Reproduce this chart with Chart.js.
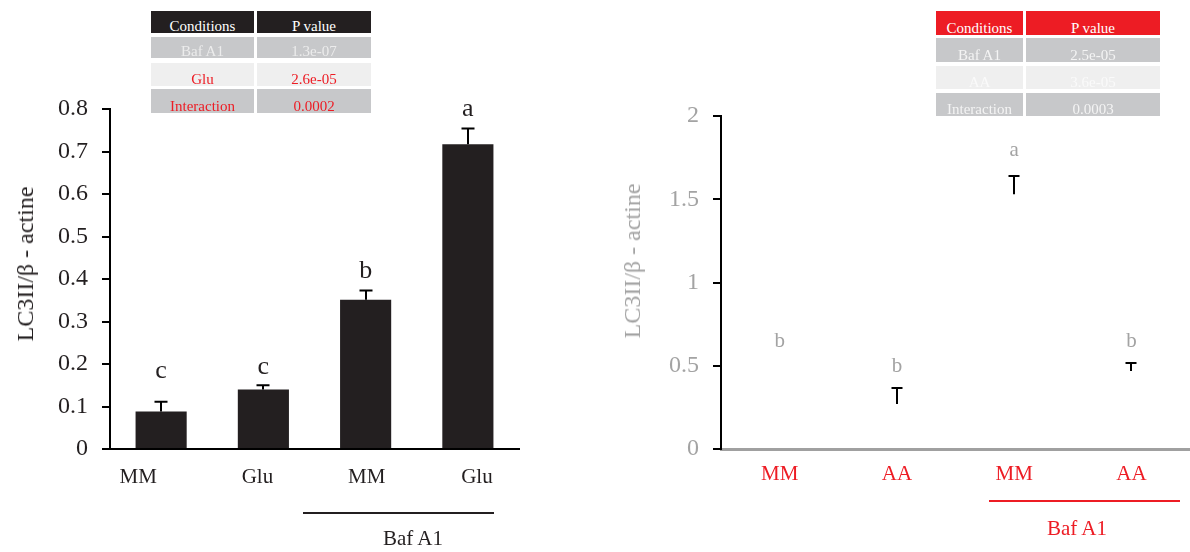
<!DOCTYPE html>
<html><head><meta charset="utf-8">
<script src="https://cdn.jsdelivr.net/npm/chart.js@4.4.0/dist/chart.umd.min.js"></script>
<style>
html,body{margin:0;padding:0;background:#fff;width:1190px;height:552px;overflow:hidden;font-family:"Liberation Serif","Times New Roman",serif;}
#w1{position:absolute;left:0;top:0;width:595px;height:552px;}
#w2{position:absolute;left:595px;top:0;width:595px;height:552px;}
.cell{position:absolute;overflow:hidden;}
.cell span{position:absolute;left:0;right:0;text-align:center;font-size:15px;line-height:15px;white-space:nowrap;}
.txt{position:absolute;white-space:nowrap;line-height:1;}
.rot{position:absolute;white-space:nowrap;line-height:1;transform:translate(-50%,-50%) rotate(-90deg);}
.hl{position:absolute;}
</style></head><body>
<div id="w1"><canvas id="c1" width="595" height="552"></canvas></div>
<div id="w2"><canvas id="c2" width="595" height="552"></canvas></div>
<div id="overlay"></div>
<script>
// ---------- data ----------
const leftCategories = ['MM', 'Glu', 'MM', 'Glu'];
const leftMeans = [0.088, 0.140, 0.351, 0.717];
const leftErrors = [0.023, 0.010, 0.022, 0.037];
const leftLetters = ['c', 'c', 'b', 'a'];
const leftLetterLevels = [0.167, 0.176, 0.402, 0.784];
const leftTickValues = [0, 0.1, 0.2, 0.3, 0.4, 0.5, 0.6, 0.7, 0.8];

const rightCategories = ['MM', 'AA', 'MM', 'AA'];
const rightMeans = [0.47, 0.27, 1.53, 0.468];
const rightErrors = [null, 0.096, 0.11, 0.048];
const rightLetters = ['b', 'b', 'a', 'b'];
const rightLetterLevels = [0.612, 0.462, 1.759, 0.612];
const rightTickValues = [0, 0.5, 1, 1.5, 2];

const leftTableHeader = ['Conditions', 'P value'];
const leftTableConditions = ['Baf A1', 'Glu', 'Interaction'];
const leftTablePValues = ['1.3e-07', '2.6e-05', '0.0002'];
const rightTableHeader = ['Conditions', 'P value'];
const rightTableConditions = ['Baf A1', 'AA', 'Interaction'];
const rightTablePValues = ['2.5e-05', '3.6e-05', '0.0003'];

const yTitle = 'LC3II/\u03b2 - actine';
const groupLabel = 'Baf A1';

// ---------- styles / layout ----------
const SERIF = '"Liberation Serif", "Times New Roman", serif';
const DARK = '#231f20';
const GRAY = '#a3a3a3';
const RED = '#ed1c24';
const CELL_GRAY = '#c7c8ca';
const CELL_LIGHT = '#efefef';
// left chart category labels sit slightly off their bar centres in the original
const LEFT_LABEL_SHIFT = [-23, -6, 1, 9];

Chart.defaults.font.family = SERIF;

function fmt(v) { return String(+Number(v).toFixed(1)); }

const errorBarPlugin = {
  id: 'errbars',
  afterDatasetsDraw(chart, args, opts) {
    const ctx = chart.ctx, meta = chart.getDatasetMeta(0), ys = chart.scales.y, xs = chart.scales.x;
    ctx.save();
    ctx.strokeStyle = opts.color; ctx.lineWidth = opts.width;
    opts.means.forEach((m, i) => {
      const e = opts.errors[i];
      if (e == null) return;
      const x = Math.round(meta.data[i].x);
      const y0 = ys.getPixelForValue(m), y1 = ys.getPixelForValue(m + e);
      ctx.beginPath();
      ctx.moveTo(x, y0); ctx.lineTo(x, y1);
      ctx.moveTo(x - opts.cap / 2, y1); ctx.lineTo(x + opts.cap / 2, y1);
      ctx.stroke();
    });
    ctx.fillStyle = opts.letterColor;
    ctx.font = opts.letterFont;
    ctx.textAlign = 'center'; ctx.textBaseline = 'alphabetic';
    opts.letters.forEach((t, i) => {
      ctx.fillText(t, meta.data[i].x, ys.getPixelForValue(opts.letterLevels[i]));
    });
    if (opts.labelShift) {
      ctx.fillStyle = opts.labelColor;
      ctx.font = opts.labelFont;
      chart.data.labels.forEach((t, i) => {
        ctx.fillText(t, xs.getPixelForValue(i) + opts.labelShift[i], xs.top + opts.labelBaseline);
      });
    }
    ctx.restore();
  }
};

function makeChart(id, cfg) {
  return new Chart(document.getElementById(id), {
    type: 'bar',
    data: {
      labels: cfg.categories,
      datasets: [{ data: cfg.means, backgroundColor: cfg.barColor, borderWidth: 0,
        barPercentage: 0.5, categoryPercentage: 1.0 }]
    },
    options: {
      responsive: false, animation: false, devicePixelRatio: 1,
      layout: { padding: { left: 0, top: cfg.padTop, right: cfg.padRight, bottom: 0 } },
      plugins: {
        legend: { display: false }, tooltip: { enabled: false },
        errbars: { means: cfg.means, errors: cfg.errors, color: '#000', width: 2, cap: cfg.cap,
          letters: cfg.letters, letterLevels: cfg.letterLevels, letterColor: cfg.letterColor, letterFont: cfg.letterFont,
          labelShift: cfg.labelShift, labelColor: cfg.xLabelColor, labelFont: '21px ' + SERIF, labelBaseline: 34 }
      },
      scales: {
        x: {
          grid: { display: false },
          border: { display: true, color: cfg.xBorderColor, width: cfg.xBorderWidth },
          ticks: { display: !cfg.labelShift, color: cfg.xLabelColor, font: { size: 21, family: SERIF }, padding: cfg.xPad, maxRotation: 0 },
          afterFit: s => { s.height = 103; }
        },
        y: {
          min: 0, max: cfg.tickValues[cfg.tickValues.length - 1],
          afterBuildTicks: s => { s.ticks = cfg.tickValues.map(v => ({ value: v })); },
          grid: { display: true, drawOnChartArea: false, drawTicks: true, tickLength: 8, color: '#000', lineWidth: 2 },
          border: { display: true, color: '#000', width: 2 },
          ticks: { color: cfg.yLabelColor, font: { size: cfg.yFont, family: SERIF }, padding: 14, callback: v => fmt(v) },
          afterFit: s => { s.width = cfg.yWidth; }
        }
      }
    },
    plugins: [errorBarPlugin]
  });
}

makeChart('c1', {
  categories: leftCategories, means: leftMeans, errors: leftErrors, letters: leftLetters,
  letterLevels: leftLetterLevels, tickValues: leftTickValues, barColor: DARK,
  padTop: 109, padRight: 76, yWidth: 110, cap: 13, letterColor: DARK, letterFont: '26px ' + SERIF,
  xBorderColor: '#000', xBorderWidth: 2, xLabelColor: DARK, xPad: 10, yLabelColor: DARK, yFont: 24,
  labelShift: LEFT_LABEL_SHIFT
});
makeChart('c2', {
  categories: rightCategories, means: rightMeans, errors: rightErrors, letters: rightLetters,
  letterLevels: rightLetterLevels, tickValues: rightTickValues, barColor: '#ffffff',
  padTop: 116, padRight: 0, yWidth: 126, cap: 11, letterColor: GRAY, letterFont: '21px ' + SERIF,
  xBorderColor: '#a0a0a0', xBorderWidth: 3, xLabelColor: RED, xPad: 5, yLabelColor: GRAY, yFont: 24
});

// ---------- overlay text: tables, titles, group labels ----------
const ov = document.getElementById('overlay');
function cell(x, y, w, h, bg, color, text) {
  const d = document.createElement('div');
  d.className = 'cell';
  d.style.cssText = `left:${x}px;top:${y}px;width:${w}px;height:${h}px;background:${bg};`;
  const s = document.createElement('span');
  s.style.top = (h - 14) + 'px'; s.style.color = color; s.textContent = text;
  d.appendChild(s); ov.appendChild(d);
}
function table(cols, rows, header, conds, pvals, headBg, headColor, rowBgs, rowColors) {
  cell(cols[0][0], rows[0][0], cols[0][1], rows[0][1], headBg, headColor, header[0]);
  cell(cols[1][0], rows[0][0], cols[1][1], rows[0][1], headBg, headColor, header[1]);
  conds.forEach((c, i) => {
    cell(cols[0][0], rows[i + 1][0], cols[0][1], rows[i + 1][1], rowBgs[i], rowColors[i], c);
    cell(cols[1][0], rows[i + 1][0], cols[1][1], rows[i + 1][1], rowBgs[i], rowColors[i], pvals[i]);
  });
}
table([[151, 103], [257, 114]], [[11, 22], [37, 21], [63, 23], [89, 24]],
  leftTableHeader, leftTableConditions, leftTablePValues, DARK, '#ffffff',
  [CELL_GRAY, CELL_LIGHT, CELL_GRAY], ['#ececec', RED, RED]);
table([[936, 87], [1026, 134]], [[11, 24], [38, 24], [66, 23], [93, 23]],
  rightTableHeader, rightTableConditions, rightTablePValues, RED, '#ffffff',
  [CELL_GRAY, CELL_LIGHT, CELL_GRAY], ['#f4f4f4', '#fafafa', '#f4f4f4']);

function text(t, cx, baseline, size, color) {
  const d = document.createElement('div');
  d.className = 'txt'; d.textContent = t;
  d.style.cssText += `font-size:${size}px;color:${color};top:${baseline - size * 0.89}px;left:${cx}px;transform:translateX(-50%);`;
  ov.appendChild(d);
}
function rot(t, cx, cy, size, color) {
  const d = document.createElement('div');
  d.className = 'rot'; d.textContent = t;
  d.style.cssText += `font-size:${size}px;color:${color};left:${cx}px;top:${cy}px;`;
  ov.appendChild(d);
}
function hline(x1, x2, y, color) {
  const d = document.createElement('div');
  d.className = 'hl';
  d.style.cssText = `left:${x1}px;top:${y - 1}px;width:${x2 - x1}px;height:2px;background:${color};`;
  ov.appendChild(d);
}
rot(yTitle, 25, 264, 24, DARK);
rot(yTitle, 632, 261, 24, GRAY);
hline(303, 494, 513, DARK);
text(groupLabel, 413, 547, 21, DARK);
hline(989, 1180, 501, RED);
text(groupLabel, 1077, 537, 21, RED);
</script>
</body></html>
